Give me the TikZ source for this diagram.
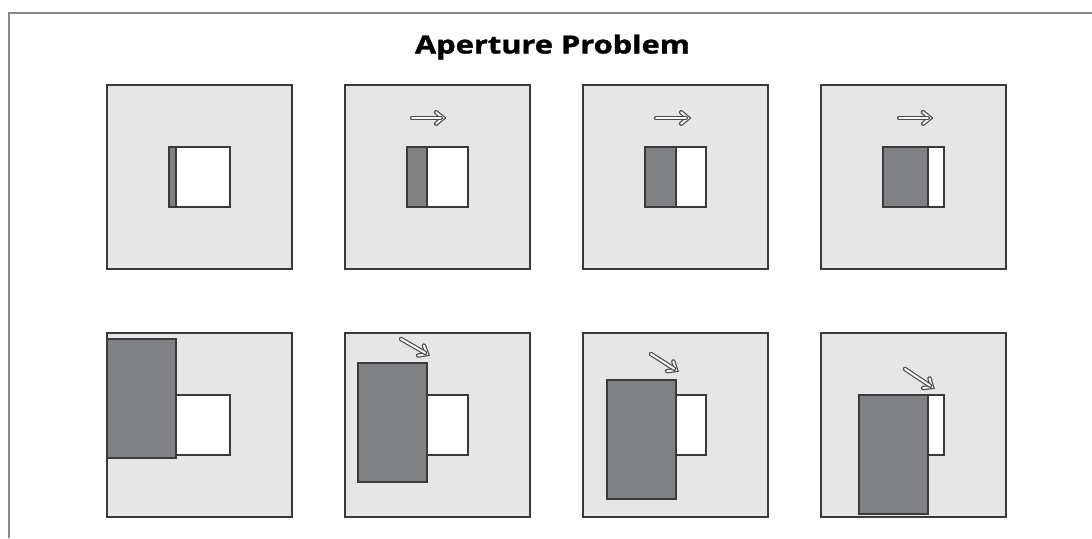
\documentclass[tikz,border=0pt]{standalone}
\usepackage{fontspec}
\newfontfamily\titlefont{Open Sans}[BoldFeatures={FakeBold=1.2}]
\usetikzlibrary{calc}
\definecolor{panelfill}{HTML}{E6E6E6}
\definecolor{edge}{HTML}{3A3A3A}
\definecolor{barfill}{HTML}{808184}
\definecolor{framegray}{HTML}{8A8A8A}
\definecolor{arrowedge}{HTML}{4A4A4A}
\tikzset{
  panel/.style={fill=panelfill, draw=edge, line width=1.2pt},
  hole/.style={fill=white, draw=edge, line width=1.2pt},
  bar/.style={fill=barfill, draw=edge, line width=1.2pt},
  motion/.style={draw=arrowedge, line width=1.2pt, double=white!85!panelfill, double distance=2.0pt, line join=miter, line cap=round},
}
\newcommand\motionarrow[2]{%
  \draw[motion] ($#2!9pt!40:#1$) -- #2 -- ($#2!9pt!-40:#1$);
  \draw[motion, shorten >=2.2pt] #1 -- #2;
}
\begin{document}
\begin{tikzpicture}[x=1pt, y=-1pt]
\useasboundingbox (0,0) rectangle (1092,538);
% frame
\draw[framegray, line width=1.4pt] (9,538) -- (9,13) -- (1092,13);
% title
\node[anchor=base, inner sep=0pt, font=\titlefont\bfseries\fontsize{25}{30}\selectfont] (title) at (552.5,53.5) {\resizebox{275pt}{\height}{Aperture Problem}};
% top row
\foreach \px/\gr/\ax/\bx in {107/69/0/0, 345/82/67/98, 583/93/73/105, 821/107/78/109} {
  \draw[panel] (\px,85) rectangle ++(185,184);
  \fill[white] (\px+62,147) rectangle (\px+123,207);
  \fill[barfill] (\px+62,147) rectangle (\px+\gr,207);
  \draw[edge, line width=1.2pt] (\px+\gr,147) -- (\px+\gr,207);
  \draw[hole, fill=none] (\px+62,147) rectangle (\px+123,207);
  \ifnum\ax>0
    \motionarrow{(\px+\ax,118)}{(\px+\bx,118)}
  \fi
}
% bottom row
\foreach \px/\gr/\top/\ax/\ay/\bx/\by in {107/69/6/0/0/0/0, 345/82/30/56/6/82/21, 583/93/47/68/21/93/37, 821/107/62/84/36/111/54} {
  \draw[panel] (\px,333) rectangle ++(185,184);
  \draw[hole] (\px+62,395) rectangle (\px+123,455);
  \draw[bar] (\px+\gr-69,333+\top) rectangle (\px+\gr,333+\top+119);
  \ifnum\ax>0
    \motionarrow{(\px+\ax,333+\ay)}{(\px+\bx,333+\by)}
  \fi
}
\end{tikzpicture}
\end{document}
